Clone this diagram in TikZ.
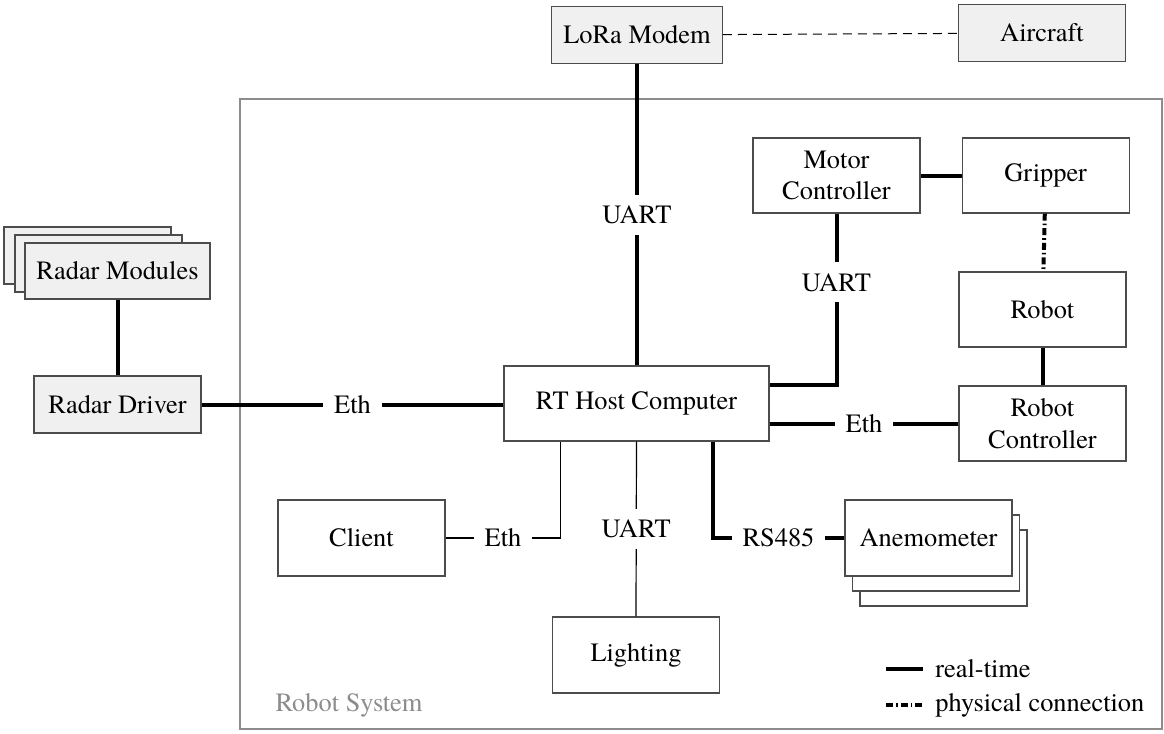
\documentclass[tikz,border=0pt]{standalone}
\usepackage{fontspec}
\setmainfont{texgyretermes}[Extension=.otf, UprightFont=*-regular, BoldFont=*-bold, ItalicFont=*-italic, BoldItalicFont=*-bolditalic]
\usetikzlibrary{positioning}

\definecolor{boxfill}{gray}{0.94}
\definecolor{boxline}{gray}{0.3}
\definecolor{framegray}{gray}{0.55}

\begin{document}
\begin{tikzpicture}[
        x=0.5pt, y=-0.5pt,
        font=\rmfamily\fontsize{13.2}{15.8}\selectfont,
        block/.style={rectangle, draw=boxline, line width=0.6pt, fill=white, minimum width=83.5pt, minimum height=38pt, inner sep=5.75pt, align=center},
        outer/.style={block, fill=boxfill, minimum height=28.5pt},
        rt/.style={line width=2pt},
        plain/.style={line width=0.6pt},
        phys/.style={line width=2pt, dash pattern=on 3.5pt off 1.5pt on 0.8pt off 1.5pt},
        radio/.style={line width=0.5pt, dash pattern=on 4.5pt off 3pt},
        lbl/.style={fill=white, inner sep=5.5pt}
    ]
        \useasboundingbox (0,0) rectangle (1164,734);

        % Robot system frame
        \draw[framegray, line width=0.8pt] (240,99) rectangle (1162,729);
        \node[text=framegray] (sysname) at (349,705) {Robot System};

        % Nodes
        \node (host) [block, minimum width=132.5pt, minimum height=37.5pt] at (636.5,403.5) {RT Host Computer};
        \node (lora) [outer] at (637,35) {LoRa Modem};
        \node (aircraft) [outer] at (1042,33) {Aircraft};

        \node (radarC) [outer] at (87.5,255.5) {};
        \node (radarB) [outer] at (98.5,263.5) {};
        \node (radar) [outer, minimum height=28pt] at (117.5,271) {Radar Modules};
        \node (driver) [outer] at (117.5,404.5) {Radar Driver};

        \node (motor) [block, minimum height=37.5pt] at (836.5,175.5) {Motor\\Controller};
        \node (gripper) [block, minimum height=37.5pt, right=20.5pt of motor] {Gripper};
        \node (robot) [block, minimum height=37.5pt] at (1042.5,309.5) {Robot};
        \node (robctl) [block, minimum height=37.5pt] at (1042.5,423.5) {Robot\\Controller};

        \node (client) [block] at (361.5,538) {Client};
        \node (lighting) [block] at (636,655) {Lighting};

        \node (anemC) [block] at (943.5,568) {};
        \node (anemB) [block] at (936,553) {};
        \node (anem) [block] at (928.5,538) {Anemometer};

        % Connections
        \draw [radio] (lora) -- (aircraft);
        \draw [rt] (lora.south) -- node[lbl] {UART} (lora.south |- host.north);
        \draw [rt] (radar) -- (driver);
        \draw [rt] (driver.east) -- node[lbl] {Eth} (driver.east -| host.west);

        \draw [rt] (motor) -- (gripper);
        \draw [phys] (gripper) -- (robot);
        \draw [rt] (robot) -- (robctl);
        \draw [rt] (motor.south) -- node[lbl, pos=0.4] {UART} (motor.south |- robctl.north) -- (host.east |- robctl.north);
        \draw [rt] (host.east |- robctl) -- node[lbl] {Eth} (robctl.west);

        \draw [plain] ([xshift=28.5pt]host.south west) |- node[lbl, pos=0.75] {Eth} (client.east);
        \draw [plain] (host.south) -- node[lbl] {UART} (lighting.north);
        \draw [rt] ([xshift=-28.5pt]host.south east) |- node[lbl, pos=0.75] {RS485} (anem.west);

        % Legend
        \node (legrt) [anchor=west, inner sep=0pt] at (935,669) {real-time};
        \node (legphys) [anchor=west, inner sep=0pt] at (935,705) {physical connection};
        \coordinate (rtA) at (886,669);
        \coordinate (physA) at (886,705);
        \draw [rt] (rtA) -- ([xshift=-6pt]legrt.west);
        \draw [phys] (physA) -- ([xshift=-6pt]legphys.west);
    \end{tikzpicture}
\end{document}
